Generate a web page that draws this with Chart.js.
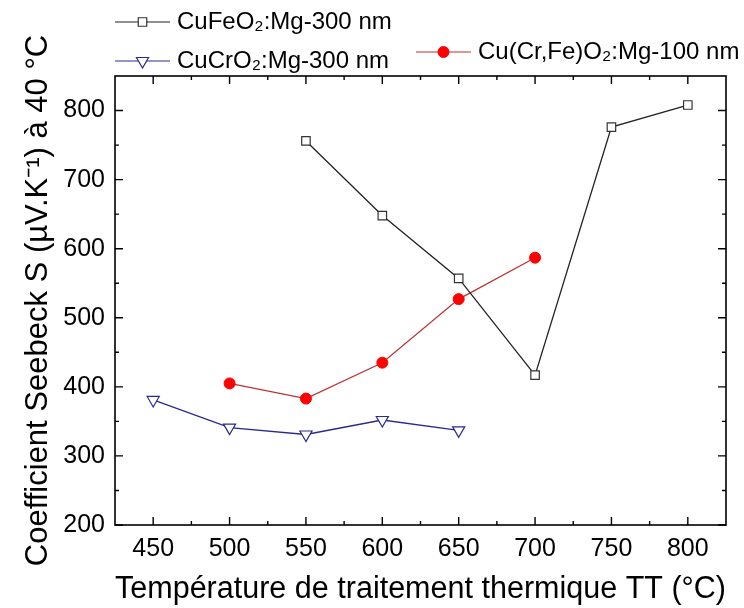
<!DOCTYPE html>
<html>
<head>
<meta charset="utf-8">
<script src="https://cdn.jsdelivr.net/npm/chart.js@4"></script>
<style>
  html, body { margin: 0; padding: 0; background: #fff; }
  #wrap { width: 744px; height: 608px; }
</style>
</head>
<body>
<div id="wrap"><canvas id="seebeckChart" width="744" height="608"></canvas></div>
<script>
// données
const xTickLabels = [450, 500, 550, 600, 650, 700, 750, 800];
const yTickLabels = [200, 300, 400, 500, 600, 700, 800];

const tempFe = [550, 600, 650, 700, 750, 800];
const seebeckFe = [756, 648, 557, 417, 776, 808];

const tempCr = [450, 500, 550, 600, 650];
const seebeckCr = [381, 341, 331, 352, 337];

const tempCrFe = [500, 550, 600, 650, 700];
const seebeckCrFe = [405, 383, 435, 527, 587];

const seriesNames = ['CuFeO₂:Mg-300 nm', 'CuCrO₂:Mg-300 nm', 'Cu(Cr,Fe)O₂:Mg-100 nm'];

const FONT = '"Liberation Sans", Arial, sans-serif';

function toPoints(xs, ys) {
    return xs.map((v, i) => ({ x: v, y: ys[i] }));
}

// cadre + graduations vers l'intérieur sur les 4 côtés, légende en haut
const frameTicks = {
    id: 'frameTicks',
    afterDraw(chart) {
        const { ctx, chartArea: a, scales: { x, y } } = chart;
        ctx.save();
        ctx.strokeStyle = '#000';
        ctx.lineWidth = 1.6;
        ctx.strokeRect(a.left, a.top, a.right - a.left, a.bottom - a.top);

        ctx.lineWidth = 1.4;
        ctx.beginPath();
        xTickLabels.forEach(v => {
            const px = x.getPixelForValue(v);
            ctx.moveTo(px, a.bottom); ctx.lineTo(px, a.bottom - 8);
            ctx.moveTo(px, a.top); ctx.lineTo(px, a.top + 8);
            const pm = x.getPixelForValue(v + 25);
            if (pm < a.right - 2) {
                ctx.moveTo(pm, a.bottom); ctx.lineTo(pm, a.bottom - 4);
                ctx.moveTo(pm, a.top); ctx.lineTo(pm, a.top + 4);
            }
        });
        yTickLabels.forEach(v => {
            const py = y.getPixelForValue(v);
            ctx.moveTo(a.left, py); ctx.lineTo(a.left + 8, py);
            ctx.moveTo(a.right, py); ctx.lineTo(a.right - 8, py);
            const pm = y.getPixelForValue(v + 50);
            if (pm > a.top + 2) {
                ctx.moveTo(a.left, pm); ctx.lineTo(a.left + 4, pm);
                ctx.moveTo(a.right, pm); ctx.lineTo(a.right - 4, pm);
            }
        });
        ctx.stroke();

        // légende
        const items = [
            { x: 115, y: 22, ds: chart.data.datasets[0] },
            { x: 115, y: 61, ds: chart.data.datasets[1] },
            { x: 416, y: 52, ds: chart.data.datasets[2] }
        ];
        ctx.font = '24px ' + FONT;
        ctx.textBaseline = 'middle';
        items.forEach(it => {
            const ds = it.ds;
            ctx.strokeStyle = ds.borderColor;
            ctx.lineWidth = 1.2;
            ctx.beginPath();
            ctx.moveTo(it.x, it.y); ctx.lineTo(it.x + 55, it.y);
            ctx.stroke();
            ctx.fillStyle = ds.pointBackgroundColor;
            ctx.strokeStyle = ds.pointBorderColor;
            ctx.lineWidth = ds.pointBorderWidth;
            Chart.helpers.drawPoint(ctx, {
                pointStyle: ds.pointStyle,
                rotation: ds.pointRotation || 0,
                radius: ds.pointRadius,
                borderWidth: ds.pointBorderWidth
            }, it.x + 27.5, it.y);
            ctx.fillStyle = '#000';
            ctx.fillText(ds.label, it.x + 62, it.y);
        });
        ctx.restore();
    }
};

const ctx = document.getElementById('seebeckChart').getContext('2d');
const seebeckChart = new Chart(ctx, {
    type: 'line',
    data: {
        datasets: [
            {
                label: seriesNames[0],
                data: toPoints(tempFe, seebeckFe),
                borderColor: '#222',
                borderWidth: 1.3,
                pointStyle: 'rect',
                pointRadius: 6,
                pointBackgroundColor: '#fff',
                pointBorderColor: '#333',
                pointBorderWidth: 1.2
            },
            {
                label: seriesNames[1],
                data: toPoints(tempCr, seebeckCr),
                borderColor: '#2a2a8c',
                borderWidth: 1.3,
                pointStyle: 'triangle',
                pointRotation: 180,
                pointRadius: 7,
                pointBackgroundColor: '#fff',
                pointBorderColor: '#2a2a8c',
                pointBorderWidth: 1.2
            },
            {
                label: seriesNames[2],
                data: toPoints(tempCrFe, seebeckCrFe),
                borderColor: '#b83232',
                borderWidth: 1.2,
                pointStyle: 'circle',
                pointRadius: 5.5,
                pointBackgroundColor: '#f00',
                pointBorderColor: '#f00',
                pointBorderWidth: 1
            }
        ]
    },
    options: {
        responsive: false,
        animation: false,
        layout: { padding: { top: 76, right: 18, left: 0, bottom: 0 } },
        plugins: {
            legend: { display: false },
            tooltip: { enabled: false }
        },
        scales: {
            x: {
                type: 'linear',
                min: 425,
                max: 825,
                afterBuildTicks: scale => { scale.ticks = xTickLabels.map(v => ({ value: v })); },
                afterFit: scale => { scale.height = 83; },
                grid: { display: false, drawTicks: false },
                border: { display: false },
                ticks: { color: '#000', padding: 9, maxRotation: 0, font: { family: FONT, size: 25 } },
                title: {
                    display: true,
                    text: 'Température de traitement thermique TT (°C)',
                    color: '#000',
                    font: { family: FONT, size: 31 },
                    padding: { top: 0, bottom: 0 }
                }
            },
            y: {
                type: 'linear',
                min: 200,
                max: 850,
                afterBuildTicks: scale => { scale.ticks = yTickLabels.map(v => ({ value: v })); },
                afterFit: scale => { scale.width = 115; },
                grid: { display: false, drawTicks: false },
                border: { display: false },
                ticks: { color: '#000', padding: 10, font: { family: FONT, size: 25 } },
                title: {
                    display: true,
                    text: 'Coefficient Seebeck S (µV.K⁻¹) à 40 °C',
                    color: '#000',
                    font: { family: FONT, size: 31 },
                    padding: { top: 20, bottom: 0 }
                }
            }
        }
    },
    plugins: [frameTicks]
});
</script>
</body>
</html>
